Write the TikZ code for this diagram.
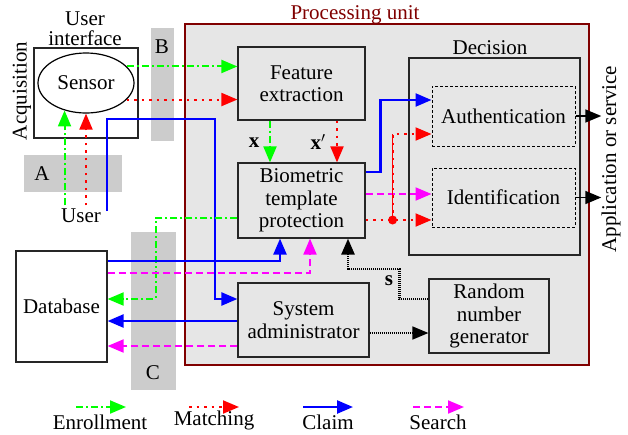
\documentclass[tikz,border=0pt]{standalone}
\usepackage{fontspec}
\setmainfont{Liberation Serif}
\usetikzlibrary{arrows.meta,calc,shapes.geometric}
\definecolor{pucol}{HTML}{800000}
\definecolor{bgg}{HTML}{E6E6E6}
\definecolor{blockg}{HTML}{CCCCCC}
\definecolor{grn}{HTML}{00FF00}
\definecolor{rd}{HTML}{FF0000}
\definecolor{bl}{HTML}{0000FF}
\definecolor{mg}{HTML}{FF00FF}
\begin{document}
\begin{tikzpicture}[x=1pt,y=-1pt,
  font=\fontsize{21}{22.5}\selectfont,
  tip/.style={-{Triangle[length=16pt,width=13pt]}},
  box/.style={draw=black!85, line width=1.2pt, fill=bgg, inner sep=0pt, align=center},
  wbox/.style={draw=black!85, line width=1.2pt, fill=white, inner sep=0pt, align=center},
  dbox/.style={draw=black, line width=1pt, dash pattern=on 3pt off 2pt, fill=bgg, inner sep=0pt, align=center},
  enr/.style={grn, line width=2pt, dash pattern=on 7pt off 3pt on 2pt off 3pt, tip},
  mat/.style={rd, line width=2pt, dash pattern=on 2.5pt off 5pt, tip},
  clm/.style={bl, line width=2.4pt, tip},
  srch/.style={mg, line width=2pt, dash pattern=on 7pt off 4pt, tip},
  blk/.style={black, line width=1.6pt, dash pattern=on 1pt off 1pt, tip},
  gblock/.style={fill=blockg, draw=none},
  lbl/.style={inner sep=0pt}
]
\useasboundingbox (0,0) rectangle (628,434);

% processing unit
\node[draw=pucol, line width=1.3pt, fill=bgg, minimum width=404pt, minimum height=341pt, inner sep=0pt] (pu) at (387,194.5) {};
\node[lbl, text=pucol] (pulabel) at (355,15) {Processing unit};

% grey blocks
\fill[gblock] (24,155) rectangle (122,192);
\fill[gblock] (151,28) rectangle (174,141);
\fill[gblock] (131,232) rectangle (176,390);
\node[lbl] (la) at (42,174) {A};
\node[lbl] (lb) at (162,47) {B};
\node[lbl] (lc) at (153,373) {C};

% user interface
\node[wbox, minimum width=104pt, minimum height=90pt] (ui) at (86,93) {};
\node[draw=black, line width=1.2pt, ellipse, fill=white, minimum width=96pt, minimum height=60pt, inner sep=0pt] (sensor) at (86,83) {Sensor};
\node[lbl, align=center, font=\fontsize{21}{20}\selectfont] (uilabel) at (85,29) {User\\interface};
\node[lbl, rotate=90] (acq) at (22,91) {Acquisition};
\node (user) at (81,216) {User};

% boxes
\node[box, minimum width=127pt, minimum height=73pt] (fe) at (301.5,83.5) {Feature\\extraction};
\node[box, minimum width=127pt, minimum height=75pt] (btp) at (301.5,200.5) {Biometric\\template\\protection};
\node[box, minimum width=131pt, minimum height=74pt] (sa) at (303.5,320) {System\\administrator};
\node[box, minimum width=120pt, minimum height=74pt] (rng) at (489,316) {Random\\number\\generator};
\node[box, minimum width=171pt, minimum height=197pt] (dec) at (494.5,156.5) {};
\node[lbl] (declabel) at (490,48) {Decision};
\node[dbox, minimum width=143pt, minimum height=60pt] (auth) at (503.5,116) {Authentication};
\node[dbox, minimum width=143pt, minimum height=59pt] (ident) at (503.5,197.5) {Identification};
\node[wbox, minimum width=91pt, minimum height=111pt] (db) at (61.5,306.5) {Database};
\node[lbl, rotate=90] (app) at (611,159) {Application or service};

% acquisition connectors
\draw[enr] (sensor.232 |- user.north) -- (sensor.232);
\draw[mat] (sensor.south |- user.north) -- (sensor.south);
\draw[enr] (sensor.22) -- (sensor.22 -| fe.west);
\draw[mat] (sensor.-22) -- (sensor.-22 -| fe.west);
\coordinate (uc) at (107,211);
\draw[clm] (uc) |- (215,119) |- ($(sa.west)+(0,-21)$);

% feature -> template
\draw[enr] ($(fe.south)+(-31.5,0)$) -- ($(btp.north)+(-31.5,0)$);
\draw[mat] ($(fe.south)+(35.5,0)$) -- ($(btp.north)+(35.5,0)$);
\node[lbl] (xl) at (254,143) {$\mathbf{x}$};
\node[lbl] (xpl) at (318,142) {$\mathbf{x}'$};

% database connectors
\draw[enr] ($(btp.west)+(0,17.5)$) -| ($(db.east)+(48,-7.5)$) -- ($(db.east)+(0,-7.5)$);
\draw[clm] ($(db.east)+(0,-45.5)$) -| ($(btp.south)+(-21.5,0)$);
\draw[srch] ($(db.east)+(0,-33.5)$) -| ($(btp.south)+(8.5,0)$);
\draw[clm] ($(sa.west)+(0,1)$) -- ($(sa.west -| db.east)+(0,1)$);
\draw[srch] ($(sa.west)+(0,26)$) -- ($(sa.west -| db.east)+(0,26)$);

% template -> decision
\draw[clm] ($(btp.east)+(0,-28.5)$) -- ++(15,0) |- ($(auth.west)+(0,-16)$);
\draw[srch] ($(btp.east)+(0,-6.5)$) -- ($(btp.east -| ident.west)+(0,-6.5)$);
\draw[mat] ($(btp.east)+(0,19.5)$) -- ($(btp.east -| ident.west)+(0,19.5)$);
\coordinate (dot) at ($(btp.east)+(27,19.5)$);
\draw[rd, line width=0.8pt] (dot) -- ($(dot)+(0,-86)$);
\draw[mat] (dot) |- ($(auth.west)+(0,18)$);
\fill[rd] (dot) circle (4.5pt);

% outputs
\draw[black, line width=1.6pt, tip] (auth.east) -- (auth.east -| app.north);
\draw[black, line width=1.6pt, tip] (ident.east) -- (ident.east -| app.north);

% random number generator
\draw[blk] ($(sa.east)+(0,13)$) -- ($(sa.east -| rng.west)+(0,13)$);
\draw[blk, line width=2.6pt] ($(rng.west)+(0,-17)$) -| ($(rng.west)+(-29,-47)$) -| ($(btp.south)+(46.5,0)$);
\node[lbl] (sl) at (389,281) {$\mathbf{s}$};

% legend
\coordinate (e1) at (76,407); \coordinate (e2) at (126,407);
\coordinate (m1) at (189,407); \coordinate (m2) at (239,407);
\coordinate (c1) at (303,407); \coordinate (c2) at (353,407);
\coordinate (s1) at (413,407); \coordinate (s2) at (464,407);
\draw[enr] (e1) -- (e2);
\draw[mat] (m1) -- (m2);
\draw[clm] (c1) -- (c2);
\draw[srch] (s1) -- (s2);
\node[lbl, anchor=base] (le) at (100,429) {Enrollment};
\node[lbl, anchor=base] (lm) at (214,425) {Matching};
\node[lbl, anchor=base] (lcl) at (328,429) {Claim};
\node[lbl, anchor=base] (ls) at (438,429) {Search};
\end{tikzpicture}
\end{document}
